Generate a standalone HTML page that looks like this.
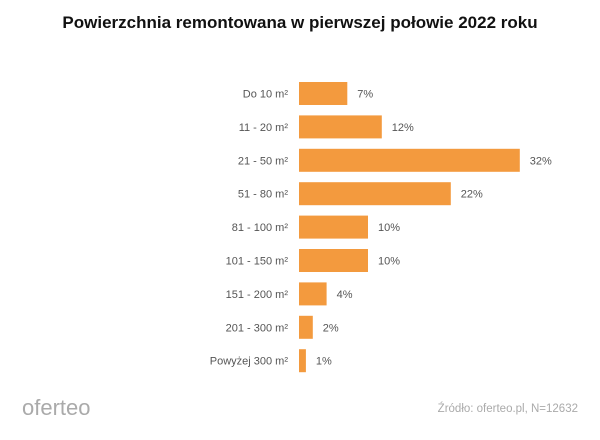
<!DOCTYPE html>
<html><head><meta charset="utf-8"><style>
body{margin:0;width:600px;height:435px;background:#fff;font-family:"Liberation Sans",sans-serif;overflow:hidden}
</style></head><body>
<svg width="600" height="435">
<text x="300" y="28" text-anchor="middle" font-size="17" font-weight="bold" fill="#111">Powierzchnia remontowana w pierwszej połowie 2022 roku</text>
<g id="bars"></g>
<text x="22" y="415" font-size="22" fill="#aaa">oferteo</text>
<text x="578" y="412" text-anchor="end" font-size="11.5" fill="#aaa">Źródło: oferteo.pl, N=12632</text>
</svg>
<script>
const categories=["Do 10 m²","11 - 20 m²","21 - 50 m²","51 - 80 m²","81 - 100 m²","101 - 150 m²","151 - 200 m²","201 - 300 m²","Powyżej 300 m²"];
const values=[7,12,32,22,10,10,4,2,1];
const valueLabels=["7%","12%","32%","22%","10%","10%","4%","2%","1%"];
const x0=299,pxPer=6.9,y0=93.5,step=33.4,bh=23;
const xs=v=>x0+v*pxPer, ys=i=>y0+i*step;
const g=document.getElementById('bars'),NS="http://www.w3.org/2000/svg";
categories.forEach((c,i)=>{
 const r=document.createElementNS(NS,'rect');
 
 
 r.setAttribute('x',x0);r.setAttribute('y',ys(i)-bh/2);
 r.setAttribute('width',xs(values[i])-x0);r.setAttribute('height',bh);r.setAttribute('fill','#f39a3e');
 g.appendChild(r);
 const t=document.createElementNS(NS,'text');
 
 
 t.setAttribute('x',288);t.setAttribute('y',ys(i)+4);t.setAttribute('text-anchor','end');
 t.setAttribute('font-size','11');t.setAttribute('fill','#555');t.textContent=c;g.appendChild(t);
 const v=document.createElementNS(NS,'text');
 
 
 v.setAttribute('x',xs(values[i])+10);v.setAttribute('y',ys(i)+4);
 v.setAttribute('font-size','11');v.setAttribute('fill','#555');v.textContent=valueLabels[i];g.appendChild(v);
});
</script>
</body></html>
